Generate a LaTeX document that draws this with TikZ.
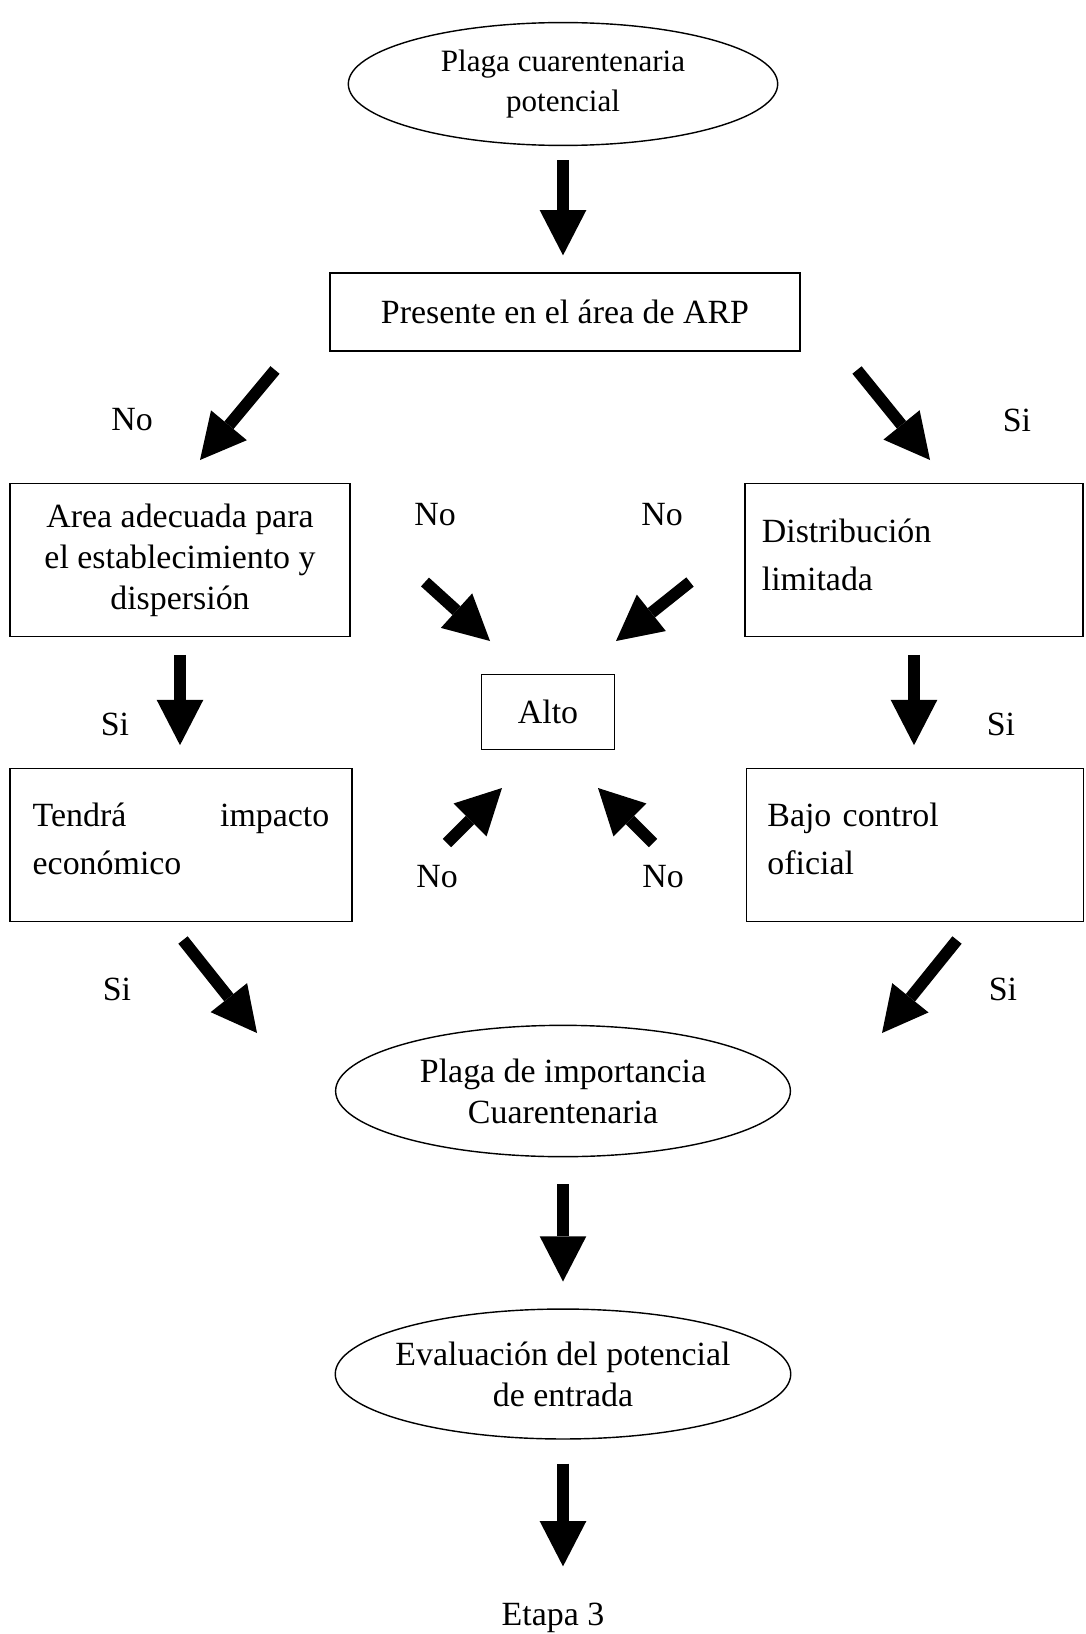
\documentclass[tikz,border=0pt]{standalone}
\usepackage{fontspec}
\setmainfont{Liberation Serif}
\usetikzlibrary{arrows.meta,shapes.geometric}

\begin{document}
\begin{tikzpicture}[x = 0.354pt, y = -0.354pt,
        every node/.style = {font = \fontsize{12}{14.5}\selectfont},
        caja/.style = {draw, line width = 0.5pt, inner sep = 0pt, minimum height = 54.2pt},
        elipse/.style = {draw, ellipse, line width = 0.5pt, inner sep = 0pt, align = center},
        flecha/.style = {line width = 4.2pt, -{Triangle[length = 16pt, width = 16.5pt, line width = 0pt]}}]
        \useasboundingbox (0, 0) rectangle (1086, 1634);

        % nodos principales
        \node[elipse, minimum width = 152pt, minimum height = 43.5pt, font = \fontsize{11}{14}\selectfont] (plaga) at (563, 84) {Plaga cuarentenaria\\potencial};
        \node[caja, minimum width = 166.4pt, minimum height = 27.6pt] (presente) at (565, 312) {Presente en el área de ARP};
        \node[caja, minimum width = 120.4pt, align = center] (area) at (180, 560) {Area adecuada para\\el establecimiento y\\dispersión};
        \node[caja, text width = 107.7pt, inner xsep = 6pt, text depth = 20.7pt, align = left, font = \fontsize{12}{17}\selectfont] (dist) at (914, 560) {Distribución\\limitada};
        \node[caja, minimum width = 47.1pt, minimum height = 26.6pt] (alto) at (548, 712) {Alto};
        \node[caja, text width = 105pt, inner xsep = 8pt, text depth = 21.4pt, align = left, font = \fontsize{12}{17}\selectfont] (tendra) at (181, 845) {Tendrá\hfill impacto\\económico};
        \node[caja, text width = 104.5pt, inner xsep = 7.4pt, text depth = 21.4pt, align = left, font = \fontsize{12}{17}\selectfont] (bajo) at (915, 845) {Bajo control\\oficial};
        \node[elipse, minimum width = 161pt, minimum height = 46.5pt] (importancia) at (563, 1091) {Plaga de importancia\\Cuarentenaria};
        \node[elipse, inner xsep = -2.3pt, minimum height = 46pt] (evaluacion) at (563, 1374) {Evaluación del potencial\\de entrada};
        \node (etapa) at (553, 1618) {Etapa 3};

        % etiquetas
        \node (no1) at (132, 420) {No};
        \node (si1) at (1017, 420) {Si};
        \node (no2) at (435, 515) {No};
        \node (no3) at (662, 515) {No};
        \node (si2) at (115, 724) {Si};
        \node (si3) at (1001, 724) {Si};
        \node (no4) at (437, 877) {No};
        \node (no5) at (663, 877) {No};
        \node (si4) at (117, 989) {Si};
        \node (si5) at (1003, 989) {Si};

        % extremos de las flechas diagonales
        \coordinate (f1a) at (275, 370);
        \coordinate (f1b) at (200, 460);
        \coordinate (f2a) at (857, 370);
        \coordinate (f2b) at (930, 460);
        \coordinate (f3a) at (425, 582);
        \coordinate (f3b) at (490, 641);
        \coordinate (f4a) at (690, 582);
        \coordinate (f4b) at (616, 641);
        \coordinate (f5a) at (447, 843);
        \coordinate (f5b) at (502, 788);
        \coordinate (f6a) at (653, 843);
        \coordinate (f6b) at (598, 788);
        \coordinate (f7a) at (183, 940);
        \coordinate (f7b) at (257, 1033);
        \coordinate (f8a) at (957, 940);
        \coordinate (f8b) at (882, 1033);

        % flechas
        \draw[flecha, shorten <= 5pt, shorten >= 6pt] (plaga) -- (plaga |- presente.north);
        \draw[flecha] (f1a) -- (f1b);
        \draw[flecha] (f2a) -- (f2b);
        \draw[flecha] (f3a) -- (f3b);
        \draw[flecha] (f4a) -- (f4b);
        \draw[flecha, shorten <= 6.2pt, shorten >= 8pt] (area) -- (area |- tendra.north);
        \draw[flecha, shorten <= 6.2pt, shorten >= 8pt] (dist) -- (dist |- bajo.north);
        \draw[flecha] (f5a) -- (f5b);
        \draw[flecha] (f6a) -- (f6b);
        \draw[flecha] (f7a) -- (f7b);
        \draw[flecha] (f8a) -- (f8b);
        \draw[flecha, shorten <= 9.5pt, shorten >= 9.5pt] (importancia) -- (evaluacion);
        \draw[flecha, shorten <= 8.5pt, shorten >= 9.5pt] (evaluacion) -- (evaluacion.south |- etapa.north);
\end{tikzpicture}
\end{document}
